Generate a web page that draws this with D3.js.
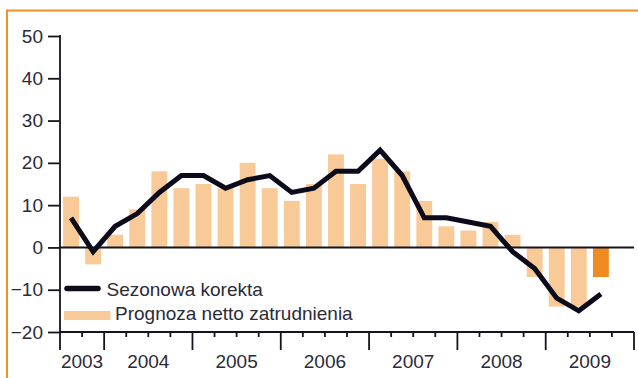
<!DOCTYPE html>
<html>
<head>
<meta charset="utf-8">
<script src="https://cdn.jsdelivr.net/npm/d3@7"></script>
<style>
  html, body { margin: 0; padding: 0; background: #fff; }
  svg { display: block; }
  text { font-family: "Liberation Sans", Arial, sans-serif; fill: #2b2b38; }
</style>
</head>
<body>
<svg id="chart" width="638" height="378"></svg>
<script>
// Quarters shown on the axis (the last slot is left empty)
const quarters = [
  "2003 Q3", "2003 Q4",
  "2004 Q1", "2004 Q2", "2004 Q3", "2004 Q4",
  "2005 Q1", "2005 Q2", "2005 Q3", "2005 Q4",
  "2006 Q1", "2006 Q2", "2006 Q3", "2006 Q4",
  "2007 Q1", "2007 Q2", "2007 Q3", "2007 Q4",
  "2008 Q1", "2008 Q2", "2008 Q3", "2008 Q4",
  "2009 Q1", "2009 Q2", "2009 Q3", "2009 Q4"
];
// Net employment outlook (bars)
const outlook = [12, -4, 3, 9, 18, 14, 15, 14, 20, 14, 11, 15, 22, 15, 21, 18, 11, 5, 4, 6, 3, -7, -14, -14, -7];
// Seasonally adjusted outlook (line)
const adjusted = [7, -1, 5, 8, 13, 17, 17, 14, 16, 17, 13, 14, 18, 18, 23, 17, 7, 7, 6, 5, -1, -5, -12, -15, -11];
const latestQuarter = "2009 Q3";
const years = ["2003", "2004", "2005", "2006", "2007", "2008", "2009"];
const yTicks = [-20, -10, 0, 10, 20, 30, 40, 50];
const legendLabels = ["Sezonowa korekta", "Prognoza netto zatrudnienia"];

const svg = d3.select("#chart");
const plot = { left: 60, right: 634, top: 36, bottom: 332 };
const ink = "#14141f";

// page frame
svg.append("line").attr("x1", 7).attr("x2", 638).attr("y1", 10.5).attr("y2", 10.5)
  .attr("stroke", "#f0922b").attr("stroke-width", 2);
svg.append("line").attr("x1", 7).attr("x2", 7).attr("y1", 9.5).attr("y2", 378)
  .attr("stroke", "#f0922b").attr("stroke-width", 2);

const x = d3.scaleBand().domain(quarters).range([plot.left, plot.right])
  .paddingInner(0.28).paddingOuter(0.14);
const step = x.step();
const y = d3.scaleLinear().domain([-20, 50]).range([plot.bottom, plot.top]);

// bars
svg.append("g").selectAll("rect")
  .data(outlook)
  .join("rect")
  .attr("x", (d, i) => x(quarters[i]))
  .attr("width", x.bandwidth())
  .attr("y", d => y(Math.max(0, d)))
  .attr("height", d => Math.abs(y(d) - y(0)))
  .attr("fill", (d, i) => quarters[i] === latestQuarter ? "#ee8b22" : "#f8ca98");

// zero line
svg.append("line").attr("x1", plot.left).attr("x2", plot.right)
  .attr("y1", y(0)).attr("y2", y(0))
  .attr("stroke", ink).attr("stroke-width", 2);

// seasonally adjusted line
const line = d3.line()
  .x((d, i) => x(quarters[i]) + x.bandwidth() / 2)
  .y(d => y(d));
svg.append("path").datum(adjusted)
  .attr("d", line)
  .attr("fill", "none")
  .attr("stroke", "#0b0b1c")
  .attr("stroke-width", 5)
  .attr("stroke-linejoin", "miter");

// y axis
const yAxis = d3.axisLeft(y).tickValues(yTicks).tickSize(12).tickPadding(5);
const gy = svg.append("g").attr("transform", `translate(${plot.left},0)`).call(yAxis);
gy.select(".domain").remove();
gy.selectAll(".tick line").attr("stroke", ink).attr("stroke-width", 1.8);
gy.selectAll(".tick text").attr("font-size", 19).attr("fill", "#2b2b38")
  .attr("font-family", "Liberation Sans, Arial, sans-serif");
svg.append("line").attr("x1", plot.left).attr("x2", plot.left).attr("y1", plot.top - 0.9).attr("y2", 350)
  .attr("stroke", ink).attr("stroke-width", 1.8);

// x axis: quarter ticks, long ticks at year boundaries
svg.append("line").attr("x1", plot.left).attr("x2", plot.right).attr("y1", plot.bottom).attr("y2", plot.bottom)
  .attr("stroke", ink).attr("stroke-width", 1.8);
const slotStart = q => x(q) - step * x.paddingInner() / 2;
const boundaries = quarters.map(q => ({ pos: slotStart(q), yearStart: q.endsWith("Q1") }));
boundaries.push({ pos: plot.right, yearStart: true });
svg.append("g").selectAll("line")
  .data(boundaries.slice(1))
  .join("line")
  .attr("x1", d => d.pos).attr("x2", d => d.pos)
  .attr("y1", plot.bottom).attr("y2", d => d.yearStart ? 350 : 337)
  .attr("stroke", ink).attr("stroke-width", 1.8);

// year labels centred on each year's span
svg.append("g").selectAll("text")
  .data(years)
  .join("text")
  .attr("x", yr => {
    const qs = quarters.filter(q => q.startsWith(yr));
    const a = slotStart(qs[0]);
    const b = slotStart(qs[qs.length - 1]) + step;
    return (a + b) / 2;
  })
  .attr("y", 367.5)
  .attr("text-anchor", "middle")
  .attr("font-size", 19)
  .text(d => d);

// legend
const lg = svg.append("g");
lg.append("line").attr("x1", 67).attr("x2", 98).attr("y1", 288.5).attr("y2", 288.5)
  .attr("stroke", "#0b0b1c").attr("stroke-width", 5.5).attr("stroke-linecap", "round");
lg.append("text").attr("x", 106.5).attr("y", 296).attr("font-size", 19).text(legendLabels[0]);
lg.append("rect").attr("x", 64).attr("y", 311).attr("width", 46.5).attr("height", 9)
  .attr("fill", "#f8ca98");
lg.append("text").attr("x", 115).attr("y", 320).attr("font-size", 19).text(legendLabels[1]);
</script>
</body>
</html>
